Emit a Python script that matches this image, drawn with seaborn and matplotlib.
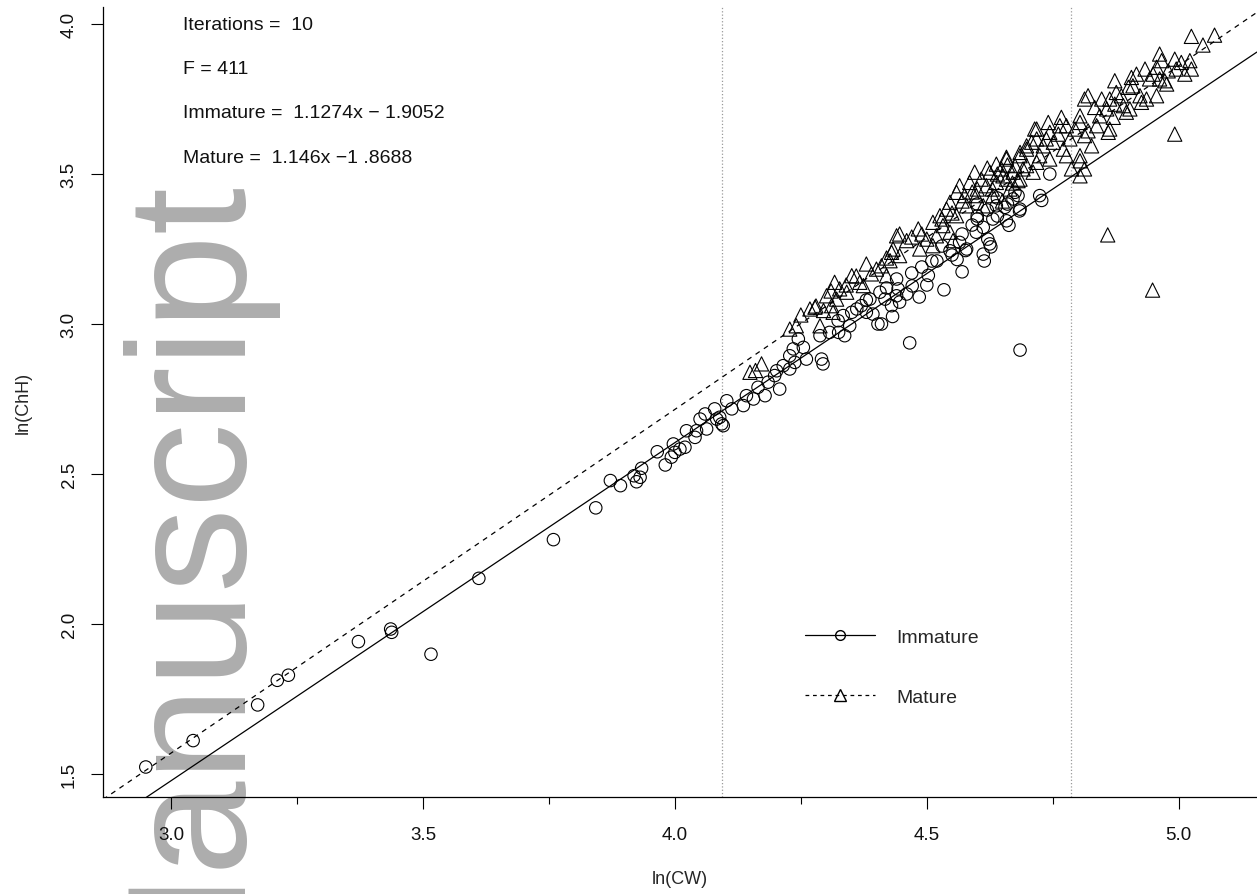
import numpy as np
import pandas as pd
import matplotlib
matplotlib.use("Agg")
import matplotlib.pyplot as plt
import seaborn as sns
from matplotlib.lines import Line2D
from matplotlib.ticker import MultipleLocator

# immature crabs (circles), ln(CW) / ln(ChH)
imm_x = [2.950, 3.044, 3.172, 3.211, 3.233, 3.372, 3.436, 3.438, 3.516, 3.611, 3.759,
         3.843, 3.872, 3.892, 3.919, 3.924, 3.934, 3.931, 3.981, 3.965, 3.997, 4.000,
         3.993, 4.010, 4.020, 4.023, 4.040, 4.043, 4.050, 4.063, 4.060, 4.079, 4.083,
         4.093, 4.103, 4.089, 4.113, 4.096,
         4.136, 4.142, 4.156, 4.165, 4.179, 4.185, 4.198, 4.208, 4.215, 4.235, 4.228, 4.238,
         4.245, 4.255, 4.228, 4.261, 4.202, 4.291, 4.294, 4.288, 4.307, 4.325, 4.324,
         4.337, 4.347, 4.334, 4.351, 4.361, 4.370, 4.380, 4.393, 4.403, 4.410, 4.387,
         4.407, 4.417, 4.430, 4.440, 4.443,
         4.466, 4.685,
         4.614, 4.570, 4.534, 4.728, 4.684, 4.663, 4.627, 4.577, 4.560, 4.503, 4.485,
         4.471, 4.432, 4.446,
         4.681, 4.685, 4.655, 4.658, 4.631, 4.621, 4.625, 4.612, 4.612, 4.598, 4.579,
         4.565, 4.638, 4.671, 4.546,
         4.744, 4.724, 4.675,
         4.470, 4.490, 4.520, 4.550, 4.500, 4.460, 4.590, 4.600, 4.640, 4.600,
         4.620, 4.640, 4.600, 4.660, 4.570, 4.530, 4.510, 4.440, 4.420, 4.380]
imm_y = [1.523, 1.611, 1.730, 1.812, 1.829, 1.941, 1.983, 1.972, 1.899, 2.152, 2.281,
         2.387, 2.478, 2.461, 2.494, 2.474, 2.519, 2.489, 2.530, 2.574, 2.600, 2.572,
         2.556, 2.583, 2.589, 2.644, 2.622, 2.644, 2.683, 2.650, 2.700, 2.717, 2.683,
         2.667, 2.744, 2.689, 2.717, 2.661,
         2.728, 2.761, 2.750, 2.789, 2.761, 2.806, 2.828, 2.783, 2.861, 2.917, 2.850, 2.872,
         2.950, 2.922, 2.894, 2.883, 2.844, 2.883, 2.867, 2.961, 2.972, 2.972, 3.011,
         2.961, 2.994, 3.028, 3.039, 3.050, 3.061, 3.039, 3.033, 3.000, 3.000, 3.083,
         3.106, 3.083, 3.061, 3.094, 3.117,
         2.937, 2.913,
         3.210, 3.174, 3.114, 3.412, 3.377, 3.329, 3.257, 3.245, 3.215, 3.162, 3.090,
         3.127, 3.025, 3.073,
         3.428, 3.383, 3.389, 3.344, 3.350, 3.283, 3.267, 3.233, 3.322, 3.306, 3.250,
         3.272, 3.394, 3.417, 3.244,
         3.500, 3.428, 3.439,
         3.170, 3.190, 3.210, 3.230, 3.130, 3.100, 3.330, 3.360, 3.420, 3.400,
         3.380, 3.360, 3.350, 3.400, 3.300, 3.260, 3.210, 3.150, 3.120, 3.080]

# mature crabs (triangles)
mat_x = [4.149, 4.172, 4.228, 4.241, 4.160,
         4.268, 4.278, 4.288, 4.301, 4.311, 4.317, 4.321, 4.327, 4.341, 4.351, 4.367,
         4.374, 4.380, 4.390, 4.400, 4.410, 4.420, 4.430, 4.440, 4.427, 4.446, 4.314,
         4.250, 4.295,
         4.718, 4.737, 4.708, 4.698, 4.685, 4.658, 4.638, 4.648, 4.675, 4.691, 4.625,
         4.595, 4.585, 4.565, 4.559, 4.608, 4.618, 4.638, 4.658, 4.681, 4.598, 4.546,
         4.539, 4.526, 4.512, 4.483, 4.446, 4.460, 4.433, 4.500, 4.519, 4.546, 4.532,
         4.559, 4.579, 4.575, 4.552, 4.486, 4.512, 4.612, 4.631, 4.665,
         5.025, 5.071, 5.048, 4.962, 4.966, 4.992, 5.005, 5.022, 5.025, 5.012, 4.995,
         4.979, 4.972, 4.956, 4.949, 4.933, 4.942, 4.962, 4.976, 4.916, 4.906, 4.873,
         4.900, 4.909, 4.876, 4.886, 4.923, 4.956, 4.936, 4.926, 4.820, 4.813, 4.847,
         4.863, 4.873, 4.857, 4.890, 4.903, 4.896, 4.843, 4.870, 4.833, 4.804, 4.804,
         4.794, 4.777, 4.767, 4.741, 4.714, 4.744, 4.761, 4.784, 4.813, 4.827, 4.860,
         4.863, 4.837, 4.820, 4.804, 4.804, 4.787, 4.813, 4.804,
         4.658, 4.685, 4.698, 4.718, 4.731, 4.751, 4.771, 4.777, 4.744, 4.718, 4.698,
         4.671, 4.651, 4.724, 4.711, 4.685, 4.764,
         4.620, 4.640, 4.660, 4.600, 4.630, 4.670, 4.570, 4.590, 4.650, 4.550, 4.530,
         4.490, 4.470, 4.420, 4.360, 4.340, 4.310, 4.280,
         4.859, 4.948, 4.992]
mat_y = [2.839, 2.867, 2.983, 2.994, 2.845,
         3.050, 3.056, 2.994, 3.094, 3.061, 3.139, 3.083, 3.117, 3.106, 3.161, 3.139,
         3.128, 3.200, 3.167, 3.183, 3.194, 3.161, 3.239, 3.294, 3.211, 3.228, 3.039,
         3.030, 3.045,
         3.650, 3.617, 3.606, 3.583, 3.561, 3.556, 3.533, 3.517, 3.528, 3.517, 3.506,
         3.506, 3.472, 3.461, 3.439, 3.483, 3.461, 3.472, 3.483, 3.478, 3.428, 3.406,
         3.383, 3.361, 3.339, 3.317, 3.300, 3.278, 3.250, 3.283, 3.294, 3.306, 3.328,
         3.361, 3.394, 3.428, 3.278, 3.250, 3.261, 3.394, 3.428, 3.450,
         3.959, 3.963, 3.930, 3.900, 3.878, 3.883, 3.872, 3.878, 3.850, 3.833, 3.850,
         3.844, 3.811, 3.856, 3.833, 3.850, 3.817, 3.817, 3.800, 3.833, 3.822, 3.811,
         3.789, 3.794, 3.772, 3.761, 3.761, 3.761, 3.750, 3.739, 3.761, 3.750, 3.750,
         3.750, 3.733, 3.717, 3.728, 3.717, 3.706, 3.694, 3.689, 3.722, 3.694, 3.672,
         3.650, 3.661, 3.689, 3.672, 3.650, 3.639, 3.633, 3.617, 3.628, 3.594, 3.639,
         3.650, 3.661, 3.644, 3.561, 3.544, 3.517, 3.517, 3.494,
         3.550, 3.572, 3.594, 3.617, 3.594, 3.606, 3.583, 3.561, 3.550, 3.539, 3.528,
         3.506, 3.494, 3.561, 3.506, 3.483, 3.661,
         3.520, 3.500, 3.530, 3.450, 3.450, 3.470, 3.410, 3.440, 3.410, 3.370, 3.350,
         3.300, 3.290, 3.220, 3.160, 3.130, 3.110, 3.060,
         3.297, 3.113, 3.633]

# fitted lines and breakpoints
imm_slope, imm_icpt = 1.1274, -1.9052
mat_slope, mat_icpt = 1.146, -1.8688
breaks = [4.093, 4.786]

notes = ["Iterations =  10",
         "F = 411",
         "Immature =  1.1274x \u2212 1.9052",
         "Mature =  1.146x \u22121 .8688"]

imm = pd.DataFrame({"lnCW": imm_x, "lnChH": imm_y})
mat = pd.DataFrame({"lnCW": mat_x, "lnChH": mat_y})

sns.set_theme(style="ticks")
plt.rcParams["font.family"] = ["Liberation Sans", "DejaVu Sans"]

fig = plt.figure(figsize=(12.57, 8.95), dpi=100)
ax = fig.add_axes([0.0819, 0.1084, 0.918, 0.8827])
ax.patch.set_alpha(0)

# grey watermark behind the plot
fig.text(0.1845, -0.120, "Manuscript", rotation=90, rotation_mode="anchor",
         ha="left", va="baseline", fontsize=122, color="#ADADAD", zorder=-1)

ax.set_xlim(2.865, 5.155)
ax.set_ylim(1.423, 4.057)

for b in breaks:
    ax.axvline(b, color="#9a9a9a", linestyle=":", linewidth=0.9, zorder=1)

sns.scatterplot(data=imm, x="lnCW", y="lnChH", marker="o", s=80,
                facecolor="none", edgecolor="black", linewidth=0.8, ax=ax, zorder=3)
sns.scatterplot(data=mat, x="lnCW", y="lnChH", marker="^", s=105,
                facecolor="none", edgecolor="black", linewidth=0.8, ax=ax, zorder=3)

xx = np.array(ax.get_xlim())
ax.plot(xx, imm_slope * xx + imm_icpt, color="black", linewidth=0.9, zorder=2)
ax.plot(xx, mat_slope * xx + mat_icpt, color="black", linewidth=0.9,
        linestyle=(0, (4, 4)), zorder=2)
ax.set_xlim(2.865, 5.155)

for txt, yy in zip(notes, [0.978, 0.9215, 0.867, 0.809]):
    ax.text(0.0693, yy, txt, transform=ax.transAxes, fontsize=14,
            ha="left", va="center", color="#111111")

handles = [
    Line2D([], [], color="black", linewidth=0.9, marker="o", markersize=7,
           markerfacecolor="none", markeredgecolor="black"),
    Line2D([], [], color="black", linewidth=0.9, linestyle=(0, (3, 3)), marker="^",
           markersize=8, markerfacecolor="none", markeredgecolor="black"),
]
ax.legend(handles, ["Immature", "Mature"], loc="upper left",
          bbox_to_anchor=(0.600, 0.226), frameon=False, fontsize=14,
          handlelength=3.6, handletextpad=1.1, labelspacing=2.2, borderpad=0)

sns.despine(ax=ax)
for side in ["left", "bottom"]:
    ax.spines[side].set_color("black")
    ax.spines[side].set_linewidth(0.9)

ax.xaxis.set_major_locator(MultipleLocator(0.5))
ax.xaxis.set_minor_locator(MultipleLocator(0.25))
ax.yaxis.set_major_locator(MultipleLocator(0.5))
ax.tick_params(axis="both", which="major", length=8.6, width=0.8, color="black",
               labelsize=13.5, labelcolor="#111111")
ax.tick_params(axis="x", which="major", pad=12)
ax.tick_params(axis="y", which="major", pad=9.5)
ax.tick_params(axis="x", which="minor", length=5, width=0.8, color="black")
for lab in ax.get_yticklabels():
    lab.set_rotation(90)
    lab.set_va("center")

ax.set_xlabel("ln(CW)", fontsize=13)
ax.set_ylabel("ln(ChH)", fontsize=13)
ax.xaxis.set_label_coords(0.5, -0.093)
ax.xaxis.label.set_va("top")
ax.yaxis.set_label_coords(-0.062, 0.5)

fig.savefig("out.png", dpi=100)
